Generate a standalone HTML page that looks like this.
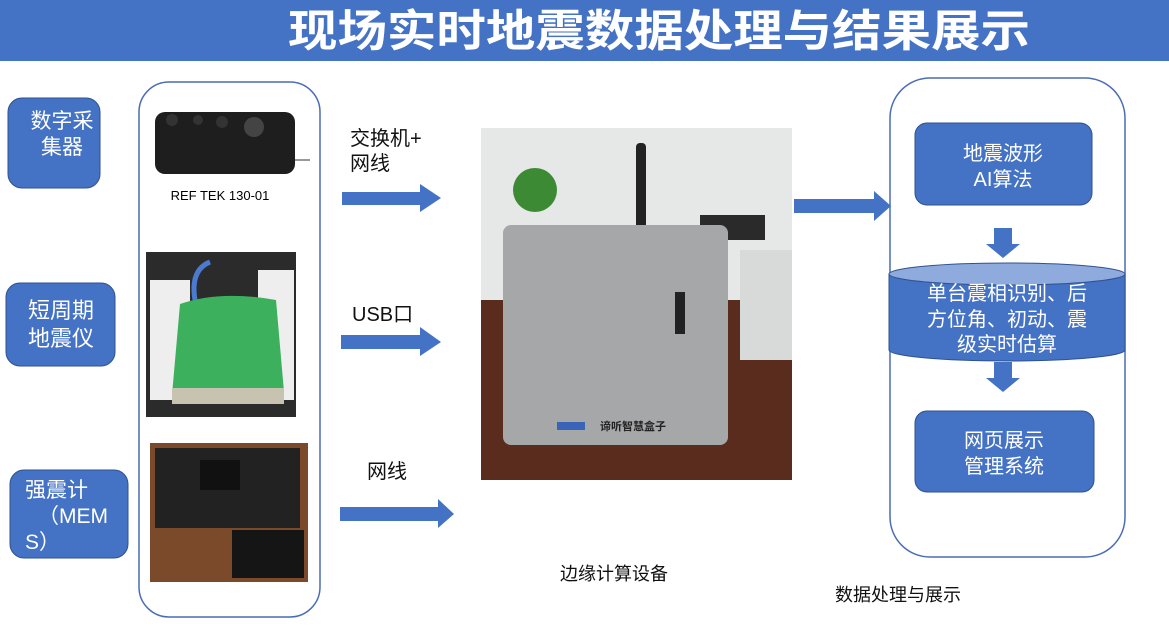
<!DOCTYPE html>
<html><head><meta charset="utf-8"><style>
body{margin:0;width:1169px;height:622px;overflow:hidden;background:#fff;font-family:"Liberation Sans","Noto Sans CJK SC",sans-serif}
svg text{font-family:"Liberation Sans","Noto Sans CJK SC",sans-serif}
</style></head><body>
<svg width="1169" height="622" viewBox="0 0 1169 622">
<rect x="0" y="0" width="1169" height="61" fill="#4472c4"/>
<text x="288" y="46" font-size="44" font-weight="bold" fill="#fff" textLength="742" lengthAdjust="spacingAndGlyphs">现场实时地震数据处理与结果展示</text>

<!-- left labels -->
<rect x="8" y="98" width="92" height="90" rx="14" fill="#4472c4" stroke="#2f528f"/>
<text x="62" y="128" font-size="21" fill="#fff" text-anchor="middle">数字采</text>
<text x="62" y="154" font-size="21" fill="#fff" text-anchor="middle">集器</text>
<rect x="6" y="283" width="109" height="83" rx="14" fill="#4472c4" stroke="#2f528f"/>
<text x="61" y="318" font-size="22" fill="#fff" text-anchor="middle">短周期</text>
<text x="61" y="346" font-size="22" fill="#fff" text-anchor="middle">地震仪</text>
<rect x="10" y="470" width="118" height="88" rx="14" fill="#4472c4" stroke="#2f528f"/>
<text x="25" y="497" font-size="21" fill="#fff">强震计</text>
<text x="38" y="523" font-size="21" fill="#fff">（MEM</text>
<text x="25" y="549" font-size="21" fill="#fff">S）</text>

<!-- left panel -->
<rect x="139" y="82" width="181" height="535" rx="30" fill="none" stroke="#4a6db5" stroke-width="1.5"/>
<rect x="155" y="112" width="140" height="62" rx="10" fill="#1e1e1e"/>
<circle cx="172" cy="120" r="6" fill="#333"/><circle cx="198" cy="120" r="5" fill="#333"/><circle cx="222" cy="122" r="6" fill="#333"/><circle cx="254" cy="127" r="10" fill="#444"/>
<line x1="295" y1="160" x2="310" y2="160" stroke="#333"/>
<text x="220" y="200" font-size="13" fill="#000" text-anchor="middle">REF TEK 130-01</text>
<rect x="146" y="252" width="150" height="165" fill="#2b2b2b"/>
<rect x="150" y="280" width="40" height="120" fill="#eee"/>
<rect x="258" y="270" width="36" height="130" fill="#eee"/>
<path d="M180 304 Q220 290 276 300 L284 392 Q230 400 172 395 Z" fill="#3cb05c"/>
<rect x="172" y="388" width="112" height="16" fill="#c8c2b0"/>
<path d="M195 300 Q190 270 210 262" stroke="#4a7bd0" stroke-width="5" fill="none"/>
<rect x="150" y="443" width="158" height="139" fill="#7a4a2a"/>
<rect x="155" y="448" width="145" height="80" fill="#222"/>
<rect x="232" y="530" width="72" height="48" fill="#151515"/>
<rect x="200" y="460" width="40" height="30" fill="#111"/>

<g fill="#4472c4">
<polygon points="342,192 420,192 420,184 441,198 420,212 420,205 342,205"/>
<polygon points="341,335 420,335 420,327 441,342 420,356 420,349 341,349"/>
<polygon points="340,507 438,507 438,499 454,514 438,528 438,521 340,521"/>
<polygon points="794,199 874,199 874,191 891,206 874,221 874,213 794,213"/>
<polygon points="994,228 1012,228 1012,244 1020,244 1003,258 986,244 994,244"/>
<polygon points="994,362 1012,362 1012,378 1020,378 1003,392 986,378 994,378"/>
</g>
<text x="350" y="145" font-size="20" fill="#111">交换机+</text>
<text x="350" y="170" font-size="20" fill="#111">网线</text>
<text x="352" y="321" font-size="20" fill="#111">USB口</text>
<text x="367" y="478" font-size="20" fill="#111">网线</text>

<rect x="481" y="128" width="311" height="352" fill="#e6e8e8"/>
<rect x="481" y="300" width="311" height="180" fill="#5a2c1e"/>
<rect x="740" y="250" width="52" height="110" fill="#d8dada"/>
<rect x="700" y="215" width="65" height="25" fill="#2a2a2a"/>
<circle cx="535" cy="190" r="22" fill="#3d8a34"/>
<rect x="636" y="143" width="10" height="90" rx="4" fill="#222"/>
<rect x="503" y="225" width="225" height="220" rx="8" fill="#a6a7a9"/>
<rect x="675" y="292" width="10" height="42" fill="#222"/>
<rect x="557" y="422" width="28" height="8" fill="#3a64b8"/>
<text x="600" y="430" font-size="11" font-weight="bold" fill="#222">谛听智慧盒子</text>
<text x="560" y="580" font-size="18" fill="#111">边缘计算设备</text>

<rect x="890" y="78" width="235" height="479" rx="40" fill="none" stroke="#4a6db5" stroke-width="1.5"/>
<rect x="915" y="123" width="177" height="82" rx="12" fill="#4472c4" stroke="#2f528f"/>
<text x="1003" y="160" font-size="20" fill="#fff" text-anchor="middle">地震波形</text>
<text x="1003" y="186" font-size="20" fill="#fff" text-anchor="middle">AI算法</text>
<path d="M889 274 L889 350 A118 11 0 0 0 1125 350 L1125 274 Z" fill="#4472c4" stroke="#2f528f"/>
<ellipse cx="1007" cy="274" rx="118" ry="11" fill="#8faadc" stroke="#2f528f"/>
<text x="1007" y="300" font-size="20" fill="#fff" text-anchor="middle">单台震相识别、后</text>
<text x="1007" y="326" font-size="20" fill="#fff" text-anchor="middle">方位角、初动、震</text>
<text x="1007" y="351" font-size="20" fill="#fff" text-anchor="middle">级实时估算</text>
<rect x="915" y="411" width="179" height="81" rx="12" fill="#4472c4" stroke="#2f528f"/>
<text x="1004" y="447" font-size="20" fill="#fff" text-anchor="middle">网页展示</text>
<text x="1004" y="473" font-size="20" fill="#fff" text-anchor="middle">管理系统</text>
<text x="835" y="601" font-size="18" fill="#111">数据处理与展示</text>
</svg>
</body></html>
